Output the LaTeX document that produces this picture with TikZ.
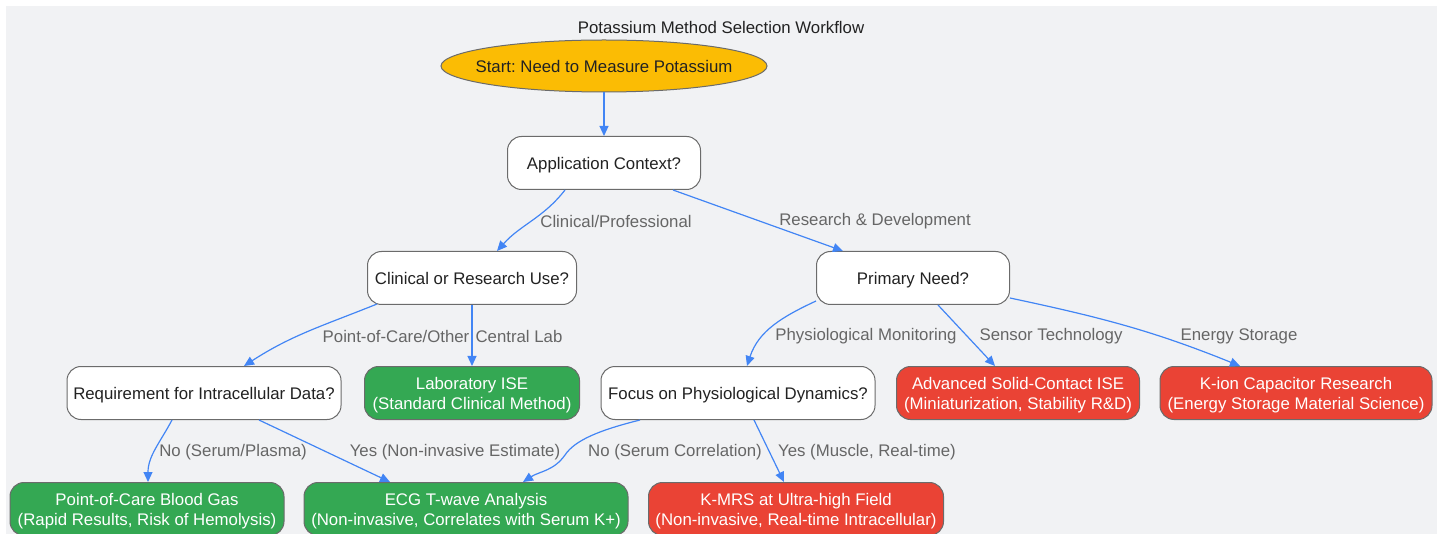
\documentclass[tikz,border=0pt]{standalone}
\usepackage{fontspec}
\setmainfont{Liberation Sans}
\frenchspacing
\usetikzlibrary{shapes.geometric, arrows.meta}

\definecolor{bgcol}{HTML}{F1F2F4}
\definecolor{bordercol}{HTML}{6B6B6B}
\definecolor{textcol}{HTML}{222222}
\definecolor{lblgray}{HTML}{666666}
\definecolor{startyellow}{HTML}{FBBC04}
\definecolor{okgreen}{HTML}{34A853}
\definecolor{resred}{HTML}{EA4335}
\definecolor{linkblue}{HTML}{4285F4}

\newcommand{\nodefont}{\fontsize{16.8}{20}\selectfont}

\tikzset{
  box/.style={draw=bordercol, line width=1pt, rounded corners=14pt, fill=white,
    text=textcol, minimum height=53pt, inner sep=3pt, text depth=0pt, font=\nodefont},
  okbox/.style={box, fill=okgreen, text=white, align=center},
  resbox/.style={box, fill=resred, text=white, align=center},
  startnode/.style={ellipse, draw=bordercol, line width=1pt, fill=startyellow,
    text=textcol, minimum width=326pt, minimum height=52pt, inner xsep=-16pt,
    inner ysep=0pt, text depth=0pt, font=\nodefont},
  link/.style={draw=linkblue, line width=1.2pt, -{Triangle[length=10pt,width=9pt]}},
  lbl/.style={text=lblgray, font=\nodefont, inner sep=0pt}
}

\begin{document}
\begin{tikzpicture}[x=1pt,y=1pt]
\useasboundingbox (0,0) rectangle (1445,-534);
\fill[bgcol] (6,-6) rectangle (1437,-540);

\node[text=textcol, font=\nodefont] (title) at (721,-27) {Potassium Method Selection Workflow};

\node[startnode] (start) at (604,-66) {Start: Need to Measure Potassium};
\node[box, minimum width=193pt] (app) at (604,-163) {Application Context?};

\node[box, minimum width=209pt] (clin) at (472,-278) {Clinical or Research Use?};
\node[box, minimum width=193pt] (prim) at (913,-278) {Primary Need?};

\node[box, minimum width=274pt] (req) at (204,-393) {Requirement for Intracellular Data?};
\node[okbox, minimum width=215pt] (lab) at (472,-393) {Laboratory ISE\\(Standard Clinical Method)};
\node[box, minimum width=274pt] (focus) at (738,-393) {Focus on Physiological Dynamics?};
\node[resbox, minimum width=243pt] (adv) at (1018,-393) {Advanced Solid-Contact ISE\\(Miniaturization, Stability R\&D)};
\node[resbox, minimum width=272pt] (kion) at (1296,-393) {K-ion Capacitor Research\\(Energy Storage Material Science)};

\node[okbox, minimum width=274pt] (poc) at (147,-509) {Point-of-Care Blood Gas\\(Rapid Results, Risk of Hemolysis)};
\node[okbox, minimum width=324pt] (ecg) at (466,-509) {ECG T-wave Analysis\\(Non-invasive, Correlates with Serum K+)};
\node[resbox, minimum width=295pt] (kmrs) at (796,-509) {K-MRS at Ultra-high Field\\(Non-invasive, Real-time Intracellular)};

\draw[link] (start) -- (app);
\draw[link] (app.south west) ++(58,0) to[out=-128,in=48] ([xshift=25pt]clin.north);
\draw[link] ([xshift=69pt]app.south) -- ([xshift=-70pt]prim.north);
\draw[link] ([xshift=10pt,yshift=1pt]clin.south west) to[out=-158,in=33] ([xshift=40pt]req.north);
\draw[link] (clin) -- (lab);
\draw[link] ([yshift=4pt]prim.south west) to[out=-155,in=72] ([xshift=9pt]focus.north);
\draw[link] ([xshift=25pt]prim.south) -- ([xshift=-23pt]adv.north);
\draw[link] ([yshift=7pt]prim.south east) to[out=-12,in=158] ([xshift=-56pt]kion.north);
\draw[link] ([xshift=-32pt]req.south) to[out=-118,in=90] ([xshift=1pt]poc.north);
\draw[link] ([xshift=55pt]req.south) -- ([xshift=-76pt]ecg.north);
\draw[link] ([xshift=-98pt]focus.south) .. controls (600,-430) and (575,-440) .. (565,-455) to[out=-125,in=33] ([xshift=57pt]ecg.north);
\draw[link] ([xshift=16pt]focus.south) -- ([xshift=-12pt]kmrs.north);

\node[lbl] (l1) at (616,-221) {Clinical/Professional};
\node[lbl] (l2) at (875,-221) {Research \& Development};
\node[lbl] (l3) at (396,-336) {Point-of-Care/Other};
\node[lbl] (l4) at (519,-336) {Central Lab};
\node[lbl] (l5) at (866,-336) {Physiological Monitoring};
\node[lbl] (l6) at (1051,-336) {Sensor Technology};
\node[lbl] (l7) at (1239,-336) {Energy Storage};
\node[lbl] (l8) at (233,-452) {No (Serum/Plasma)};
\node[lbl] (l9) at (455,-452) {Yes (Non-invasive Estimate)};
\node[lbl] (l10) at (675,-452) {No (Serum Correlation)};
\node[lbl] (l11) at (867,-452) {Yes (Muscle, Real-time)};
\end{tikzpicture}
\end{document}
